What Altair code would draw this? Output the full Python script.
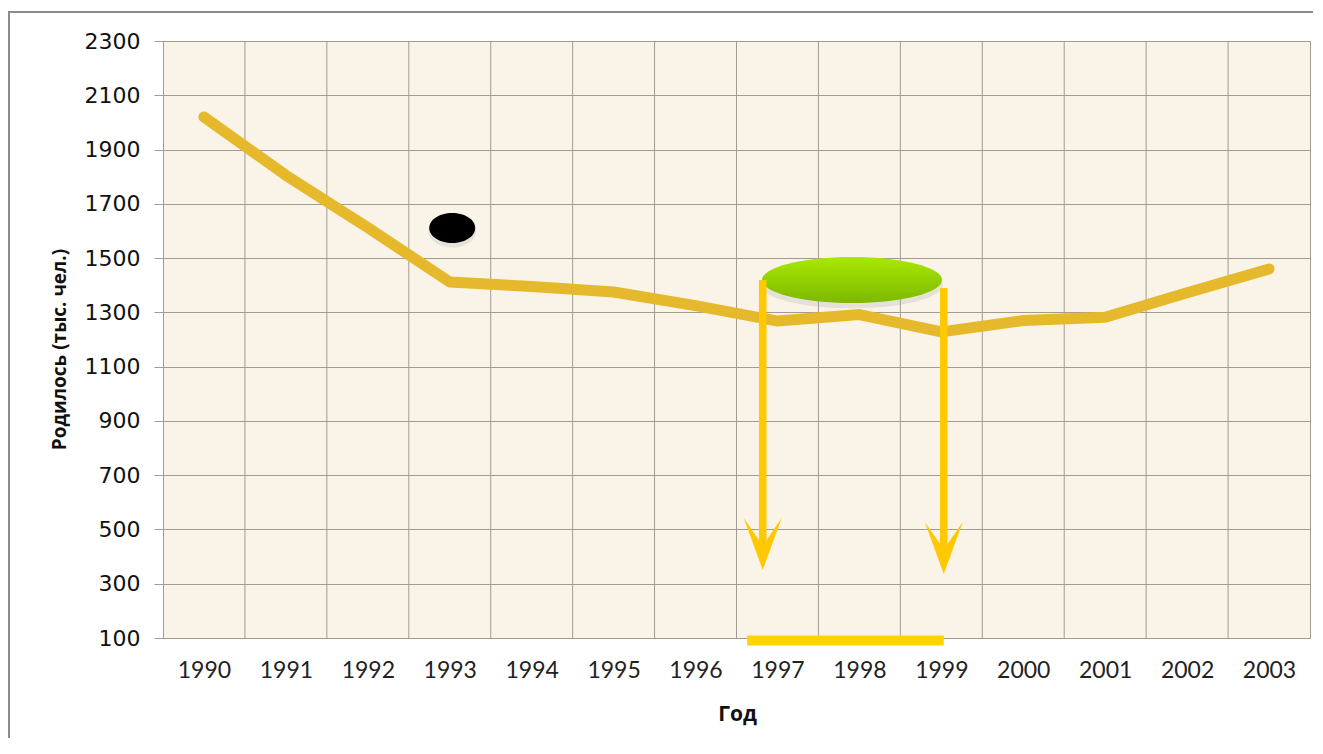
import altair as alt
import pandas as pd

# ---- data ----
years = list(range(1990, 2004))
births = [2020, 1805, 1612, 1412, 1395, 1375, 1325, 1268, 1292, 1228, 1270, 1282, 1372, 1460]
y_ticks = list(range(100, 2301, 200))
grid_x = [y + 0.5 for y in years[:-1]]

# annotations (in data units)
black_x = [1993.03]
black_y = [1611]
green_x = [1997.91]
green_y = [1419]
arrow_x = [1996.82, 1999.03]
arrow_top = [1419, 1390]
arrow_bottom = [455, 440]
arrow_head = [446, 432]
bar_x = [1996.63]
bar_x2 = [1999.03]
bar_y = [91]

W, H = 1147, 597
xs = alt.Scale(domain=[1989.5, 2003.5], nice=False, zero=False)
ys = alt.Scale(domain=[100, 2300], nice=False, zero=False)

GRID = "#A39B92"
LINE = "#E5B92B"
ARROW = "#FFC800"

df = pd.DataFrame({"year": years, "births": births})

x_axis = alt.Axis(values=years, format="d", grid=False, ticks=False, domain=False,
                  labelFont="Lato", labelFontSize=23, labelColor="#222222",
                  labelPadding=21, labelFlush=False, labelOverlap=False,
                  title="Год", titleFont="Open Sans", titleFontSize=21,
                  titleFontWeight="bold", titleColor="#111111",
                  titleX=574, titleY=76, titleBaseline="middle", titleAlign="center")
y_axis = alt.Axis(values=y_ticks, format="d", grid=True, gridColor=GRID, gridWidth=1,
                  gridOpacity=1, domain=False, tickSize=9, tickColor=GRID, tickWidth=1,
                  labelFont="DejaVu Sans", labelFontSize=22, labelColor="#111111",
                  labelPadding=14, labelBaseline="middle",
                  title="Родилось (тыс. чел.)", titleFont="Open Sans", titleFontSize=19,
                  titleFontWeight="bold", titleColor="#111111", titleAngle=270,
                  titleX=-104, titleY=308, titleAlign="center", titleBaseline="middle")


def X(field):
    return alt.X(field, scale=xs, axis=x_axis)


def Y(field):
    return alt.Y(field, scale=ys, axis=y_axis)


vgrid = alt.Chart(pd.DataFrame({"gx": grid_x})).mark_rule(
    color=GRID, strokeWidth=1).encode(x=X("gx:Q"))

line = alt.Chart(df).mark_line(color=LINE, strokeWidth=11, strokeCap="round",
                               strokeJoin="round").encode(
    x=X("year:Q"), y=Y("births:Q"))

black_path = "M-1,0 A1,0.652 0 1,1 1,0 A1,0.652 0 1,1 -1,0 Z"
green_path = "M-1,0 A1,0.2556 0 1,1 1,0 A1,0.2556 0 1,1 -1,0 Z"

bdf = pd.DataFrame({"x": black_x, "y": black_y})
gdf = pd.DataFrame({"x": green_x, "y": green_y})


def pt(data, path, size, fill, opacity=1.0, yoff=0):
    return alt.Chart(data).mark_point(shape=path, size=size, filled=True, fill=fill,
                                      strokeWidth=0, opacity=opacity, yOffset=yoff).encode(
        x=X("x:Q"), y=Y("y:Q"))


black_shadow = pt(bdf, black_path, 2250, "#999999", 0.18, 4)
black = pt(bdf, black_path, 2116, "#000000")
green_shadow = pt(gdf, green_path, 33000, "#999999", 0.2, 5)
green_fill = alt.LinearGradient(gradient="linear",
                                stops=[alt.GradientStop(color="#A9E800", offset=0),
                                       alt.GradientStop(color="#7DB800", offset=1)],
                                x1=0, x2=0, y1=0, y2=1)
green = pt(gdf, green_path, 32400, green_fill)

adf = pd.DataFrame({"x": arrow_x, "top": arrow_top, "bottom": arrow_bottom, "head": arrow_head})
shafts = alt.Chart(adf).mark_rule(color=ARROW, strokeWidth=7.5, strokeCap="butt").encode(
    x=X("x:Q"), y=Y("top:Q"), y2="bottom:Q")
head_path = "M0,1 L-0.73,-1 L-0.14,-0.15 L0.14,-0.15 L0.73,-1 Z"
heads = alt.Chart(adf).mark_point(shape=head_path, size=2704, filled=True, fill=ARROW,
                                  strokeWidth=0, opacity=1).encode(
    x=X("x:Q"), y=Y("head:Q"))

bar = alt.Chart(pd.DataFrame({"x": bar_x, "x2": bar_x2, "y": bar_y})).mark_rule(
    color="#FFD400", strokeWidth=10, strokeCap="butt").encode(
    x=X("x:Q"), x2="x2:Q", y=Y("y:Q"))

one = pd.DataFrame({"a": [0]})
frame_left = alt.Chart(one).mark_rule(color="#8C8C8C", strokeWidth=2).encode(
    x=alt.value(-154), y=alt.value(-29), y2=alt.value(720))
frame_top = alt.Chart(one).mark_rule(color="#8C8C8C", strokeWidth=2).encode(
    x=alt.value(-155), x2=alt.value(1200), y=alt.value(-29))

chart = alt.layer(vgrid, line, black_shadow, black, green_shadow, green, shafts, heads,
                  bar, frame_left, frame_top).properties(
    width=W, height=H,
    autosize=alt.AutoSizeParams(type="none"),
    padding={"left": 155, "top": 33, "right": 3, "bottom": 100},
    background="white",
).configure_view(fill="#F9F3E8", stroke=GRID, strokeWidth=1)

chart.save("out.html", embed_options={"renderer": "svg", "actions": False})
